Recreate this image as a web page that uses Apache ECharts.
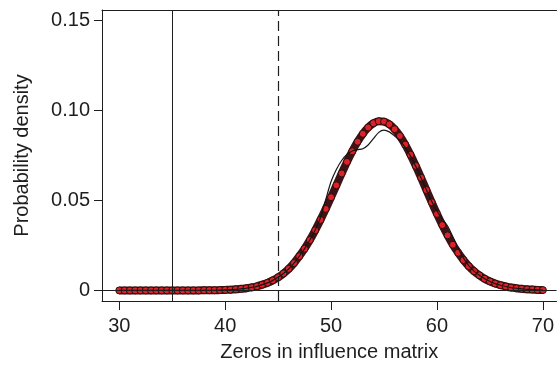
<!DOCTYPE html>
<html>
<head>
<meta charset="utf-8">
<script src="https://cdn.jsdelivr.net/npm/echarts@6/dist/echarts.min.js"></script>
<style>
  html, body { margin: 0; padding: 0; background: #fff; }
  #chart { width: 557px; height: 367px; }
</style>
</head>
<body>
<div id="chart"></div>
<script>
// zeros in influence matrix (grid of x values)
var zeros = [
  30, 30.5, 31, 31.5, 32, 32.5, 33, 33.5, 34, 34.5, 35, 35.5, 36, 36.5, 37, 37.5,
  38, 38.5, 39, 39.5, 40, 40.5, 41, 41.5, 42, 42.5, 43, 43.5, 44, 44.5, 45, 45.5,
  46, 46.5, 47, 47.5, 48, 48.5, 49, 49.5, 50, 50.5, 51, 51.5, 52, 52.5, 53, 53.5,
  54, 54.5, 55, 55.5, 56, 56.5, 57, 57.5, 58, 58.5, 59, 59.5, 60, 60.5, 61, 61.5,
  62, 62.5, 63, 63.5, 64, 64.5, 65, 65.5, 66, 66.5, 67, 67.5, 68, 68.5, 69, 69.5, 70
];
// fitted density (red circles)
var fitted = [
  0, 0, 0, 0, 0, 0, 0, 0, 0, 0, 0, 0, 0, 0, 0, 0,
  0.0001, 0.0001, 0.0001, 0.0002, 0.0003, 0.0004, 0.0006, 0.0009, 0.0012, 0.0017, 0.0023, 0.0032, 0.0042, 0.0056, 0.0073, 0.0094,
  0.0120, 0.0152, 0.0190, 0.0232, 0.0280, 0.0334, 0.0392, 0.0453, 0.0518, 0.0584, 0.0650, 0.0714, 0.0773, 0.0826, 0.0870, 0.0905,
  0.0929, 0.0940, 0.0938, 0.0923, 0.0896, 0.0858, 0.0810, 0.0754, 0.0692, 0.0626, 0.0558, 0.0490, 0.0425, 0.0363, 0.0306, 0.0254,
  0.0209, 0.0169, 0.0135, 0.0107, 0.0084, 0.0065, 0.0050, 0.0038, 0.0029, 0.0022, 0.0016, 0.0012, 0.0009, 0.0006, 0.0005, 0.0003, 0.0002
];
// observed density (thin black line)
var observed = [
  0, 0, 0, 0, 0, 0, 0, 0, 0, 0, 0, 0, 0, 0, 0, 0,
  0.0001, 0.0001, 0.0001, 0.0002, 0.0003, 0.0004, 0.0006, 0.0009, 0.0012, 0.0017, 0.0023, 0.0032, 0.0042, 0.0056, 0.0073, 0.0094,
  0.0120, 0.0152, 0.0190, 0.0232, 0.0280, 0.0336, 0.0405, 0.0505, 0.0605, 0.0672, 0.0722, 0.0755, 0.0775, 0.0782, 0.0787, 0.0808,
  0.0843, 0.0878, 0.0891, 0.0881, 0.0858, 0.0832, 0.0795, 0.0746, 0.0688, 0.0625, 0.0560, 0.0496, 0.0440, 0.0398, 0.0358, 0.0298,
  0.0236, 0.0180, 0.0138, 0.0107, 0.0084, 0.0065, 0.0050, 0.0038, 0.0029, 0.0022, 0.0016, 0.0012, 0.0009, 0.0006, 0.0005, 0.0003, 0.0002
];
var xTicks = [30, 40, 50, 60, 70];
var yTicks = [0, 0.05, 0.10, 0.15];
var yTickLabels = ['0', '0.05', '0.10', '0.15'];
var solidCut = 35;
var dashedCut = 45;

var font = 'Liberation Sans, Arial, Helvetica, sans-serif';
var ink = '#1e1e1e';
var xMin = 28.37, xMax = 71.29;

var chart = echarts.init(document.getElementById('chart'));
chart.setOption({
  animation: false,
  // frame is drawn with axis lines: left, bottom and top only (right side is cut off)
  grid: { left: 102, top: 10, right: 0, bottom: 63 },
  xAxis: [
    {
      type: 'value',
      min: xMin, max: xMax,
      name: 'Zeros in influence matrix',
      nameLocation: 'middle',
      nameGap: 41,
      nameTextStyle: { fontFamily: font, fontSize: 20, color: ink },
      axisLine: { show: true, onZero: false, lineStyle: { color: ink, width: 1 } },
      splitLine: { show: false },
      axisTick: { show: true, length: 9, customValues: xTicks, lineStyle: { color: ink } },
      axisLabel: { customValues: xTicks, margin: 15, fontFamily: font, fontSize: 20, color: ink }
    },
    {
      type: 'value',
      position: 'top',
      min: xMin, max: xMax,
      axisLine: { show: true, onZero: false, lineStyle: { color: ink, width: 1 } },
      axisTick: { show: false },
      axisLabel: { show: false },
      splitLine: { show: false }
    }
  ],
  yAxis: {
    type: 'value',
    min: -0.00587, max: 0.1558,
    name: 'Probability density',
    nameLocation: 'middle',
    nameGap: 70,
    nameTextStyle: { fontFamily: font, fontSize: 20, color: ink },
    axisLine: { show: true, onZero: false, lineStyle: { color: ink, width: 1 } },
    splitLine: { show: false },
    axisTick: { show: true, length: 8, customValues: yTicks, lineStyle: { color: ink } },
    axisLabel: {
      customValues: yTicks, margin: 12, fontFamily: font, fontSize: 20, color: ink,
      formatter: function (v) { return yTickLabels[yTicks.indexOf(v)]; }
    }
  },
  series: [
    {
      name: 'fitted',
      type: 'line',
      data: zeros.map(function (x, i) { return [x, fitted[i]]; }),
      smooth: 0.3,
      symbol: 'circle',
      symbolSize: 7,
      itemStyle: { color: '#dc2228', borderColor: '#2c0d0e', borderWidth: 1 },
      lineStyle: { color: '#3e1315', width: 8 },
      z: 3,
      markLine: {
        silent: true,
        symbol: 'none',
        label: { show: false },
        data: [
          { yAxis: 0, lineStyle: { color: ink, width: 1, type: 'solid' } },
          { xAxis: solidCut, lineStyle: { color: ink, width: 1, type: 'solid' } },
          { xAxis: dashedCut, lineStyle: { color: ink, width: 1.2, type: [10, 5] } }
        ]
      }
    },
    {
      name: 'observed',
      type: 'line',
      data: zeros.map(function (x, i) { return [x, observed[i]]; }),
      smooth: 0.3,
      showSymbol: false,
      lineStyle: { color: '#151515', width: 1.2 },
      z: 4
    }
  ]
});
</script>
</body>
</html>
